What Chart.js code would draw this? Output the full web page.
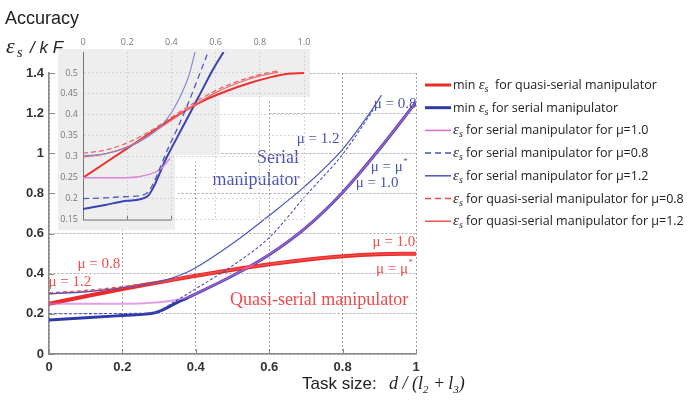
<!DOCTYPE html>
<html>
<head>
<meta charset="utf-8">
<script src="https://cdn.jsdelivr.net/npm/chart.js@4.4.0/dist/chart.umd.min.js"></script>
<style>
  html, body { margin: 0; padding: 0; background: #fff; }
  #wrap { position: relative; width: 687px; height: 400px; overflow: hidden; }
  #main { position: absolute; left: 0; top: 0; }
  #inset { position: absolute; left: 55px; top: 36px; }
</style>
</head>
<body>
<div id="wrap">
  <canvas id="main" width="687" height="400"></canvas>
  <canvas id="inset" width="260" height="194"></canvas>
</div>
<script>
// ---- main plot data (task size d/(l2+l3) vs accuracy) ----
const xTicks = [0, 0.2, 0.4, 0.6, 0.8, 1];
const xTickLabels = ['0', '0.2', '0.4', '0.6', '0.8', '1'];
const yTicks = [0, 0.2, 0.4, 0.6, 0.8, 1, 1.2, 1.4];
const yTickLabels = ['0', '0.2', '0.4', '0.6', '0.8', '1', '1.2', '1.4'];

const quasiMinX = [0, 0.1, 0.2, 0.3, 0.4, 0.5, 0.6, 0.7, 0.8, 0.9, 1.0];
const quasiMinY = [0.25, 0.288, 0.324, 0.357, 0.39, 0.42, 0.447, 0.47, 0.487, 0.497, 0.5];

const quasi08X = [0, 0.1, 0.2, 0.3, 0.4, 0.5, 0.6, 0.7, 0.8, 0.9, 1.0];
const quasi08Y = [0.305, 0.317, 0.336, 0.362, 0.393, 0.423, 0.45, 0.472, 0.489, 0.499, 0.502];
const quasi12X = [0, 0.1, 0.2, 0.3, 0.4, 0.5, 0.6, 0.7, 0.8, 0.9, 1.0];
const quasi12Y = [0.3, 0.311, 0.33, 0.357, 0.39, 0.42, 0.447, 0.47, 0.487, 0.497, 0.5];

const serialMinX = [0, 0.1, 0.2, 0.29, 0.35, 0.4, 0.5, 0.6, 0.7, 0.8, 0.9, 1.0];
const serialMinY = [0.17, 0.18, 0.192, 0.206, 0.257, 0.3, 0.39, 0.495, 0.63, 0.805, 1.02, 1.255];

const serial10X = [0, 0.1, 0.2, 0.3, 0.35, 0.39, 0.4, 0.5, 0.6, 0.7, 0.8, 0.9, 1.0];
const serial10Y = [0.25, 0.25, 0.25, 0.258, 0.27, 0.291, 0.3, 0.39, 0.495, 0.63, 0.805, 1.02, 1.255];

const serial08X = [0, 0.1, 0.2, 0.28, 0.35, 0.4, 0.5, 0.6, 0.7, 0.8, 0.885];
const serial08Y = [0.2, 0.201, 0.202, 0.205, 0.27, 0.325, 0.44, 0.58, 0.79, 0.995, 1.22];

const serial12X = [0, 0.1, 0.2, 0.3, 0.36, 0.4, 0.5, 0.6, 0.7, 0.8, 0.87, 0.906];
const serial12Y = [0.3, 0.31, 0.33, 0.36, 0.395, 0.43, 0.55, 0.69, 0.84, 1.02, 1.19, 1.29];

// ---- inset (zoomed view) data ----
const insetXTicks = [0, 0.2, 0.4, 0.6, 0.8, 1.0];
const insetXTickLabels = ['0', '0.2', '0.4', '0.6', '0.8', '1.0'];
const insetYTicks = [0.15, 0.2, 0.25, 0.3, 0.35, 0.4, 0.45, 0.5];
const insetYTickLabels = ['0.15', '0.2', '0.25', '0.3', '0.35', '0.4', '0.45', '0.5'];

const insetQuasiMinX = [0, 0.1, 0.2, 0.3, 0.4, 0.53, 0.65, 0.755, 0.85, 0.93, 1.0];
const insetQuasiMinY = [0.25, 0.285, 0.32, 0.355, 0.39, 0.43, 0.457, 0.476, 0.49, 0.498, 0.5];
const insetQuasi08X = [0, 0.1, 0.2, 0.3, 0.4, 0.5, 0.6, 0.7, 0.8, 0.884];
const insetQuasi08Y = [0.308, 0.316, 0.333, 0.36, 0.394, 0.428, 0.458, 0.48, 0.496, 0.505];
const insetQuasi12X = [0, 0.1, 0.2, 0.3, 0.4, 0.5, 0.6, 0.7, 0.8, 0.884];
const insetQuasi12Y = [0.299, 0.307, 0.324, 0.352, 0.387, 0.422, 0.453, 0.476, 0.493, 0.502];
const insetSerialMinX = [0, 0.1, 0.2, 0.288, 0.38, 0.46, 0.53, 0.59, 0.636];
const insetSerialMinY = [0.175, 0.185, 0.195, 0.204, 0.3, 0.38, 0.45, 0.51, 0.55];
const insetSerial10X = [0, 0.1, 0.2, 0.3, 0.35, 0.394];
const insetSerial10Y = [0.25, 0.25, 0.25, 0.258, 0.27, 0.296];
const insetSerial08X = [0, 0.1, 0.2, 0.28, 0.385, 0.47, 0.566];
const insetSerial08Y = [0.2, 0.202, 0.205, 0.21, 0.32, 0.42, 0.55];
const insetSerial12X = [0, 0.1, 0.2, 0.3, 0.35, 0.4, 0.45, 0.48, 0.507];
const insetSerial12Y = [0.302, 0.307, 0.322, 0.35, 0.372, 0.405, 0.455, 0.495, 0.55];

// text labels placed on the main plot (data coordinates)
const BLUE_TXT = '#4b53b2';
const RED_TXT = '#f04a4a';
const notes = [
  { t: 'μ = 0.8', x: 0.943, y: 1.245, c: BLUE_TXT, s: 15 },
  { t: 'μ = 1.2', x: 0.733, y: 1.07, c: BLUE_TXT, s: 15 },
  { t: 'Serial', x: 0.624, y: 0.975, c: BLUE_TXT, s: 18 },
  { t: 'manipulator', x: 0.564, y: 0.865, c: BLUE_TXT, s: 18 },
  { t: 'μ = μ*', x: 0.926, y: 0.93, c: BLUE_TXT, s: 15 },
  { t: 'μ = 1.0', x: 0.894, y: 0.85, c: BLUE_TXT, s: 15 },
  { t: 'μ = 1.0', x: 0.94, y: 0.56, c: RED_TXT, s: 15 },
  { t: 'μ = μ*', x: 0.94, y: 0.425, c: RED_TXT, s: 15 },
  { t: 'Quasi-serial manipulator', x: 0.736, y: 0.27, c: RED_TXT, s: 18 },
  { t: 'μ = 0.8', x: 0.136, y: 0.45, c: RED_TXT, s: 15 },
  { t: 'μ = 1.2', x: 0.057, y: 0.36, c: RED_TXT, s: 15 }
];

function pts(xs, ys) {
  return xs.map((x, i) => ({ x: x, y: ys[i] }));
}

function line(label, xs, ys, color, width, dash, order) {
  return {
    label: label,
    data: pts(xs, ys),
    borderColor: color,
    borderWidth: width,
    borderDash: dash || [],
    order: order,
    pointRadius: 0,
    cubicInterpolationMode: 'monotone',
    fill: false
  };
}

const mainDatasets = [
  line('min εs  for quasi-serial manipulator', quasiMinX, quasiMinY, '#ec2a2a', 4, null, 5),
  line('min εs for serial manipulator', serialMinX, serialMinY, '#2e3aa6', 3, null, 6),
  line('εs for serial manipulator for μ=1.0', serial10X, serial10Y, 'rgba(214,108,222,0.65)', 2, null, 2),
  line('εs for serial manipulator for μ=0.8', serial08X, serial08Y, '#4652b8', 1.1, [3, 2], 1),
  line('εs for serial manipulator for μ=1.2', serial12X, serial12Y, '#4a56c0', 1.2, null, 1),
  line('εs for quasi-serial manipulator for μ=0.8', quasi08X, quasi08Y, '#f04848', 1.2, [4, 3], 3),
  line('εs for quasi-serial manipulator for μ=1.2', quasi12X, quasi12Y, '#f25252', 1.2, null, 3)
];
const legendColors = ['#ec2a2a', '#2e3aa6', '#d86ed8', '#4652b8', '#4a56c0', '#f04848', '#f25252'];

const insetDatasets = [
  line('q min', insetQuasiMinX, insetQuasiMinY, '#ee3030', 2, null, 5),
  line('s min', insetSerialMinX, insetSerialMinY, '#3a42b4', 2, null, 6),
  line('s 1.0', insetSerial10X, insetSerial10Y, '#d884d8', 1.4, null, 2),
  line('s 0.8', insetSerial08X, insetSerial08Y, '#5058c0', 1.3, [6, 4], 1),
  line('s 1.2', insetSerial12X, insetSerial12Y, '#7c84d4', 1.1, null, 1),
  line('q 0.8', insetQuasi08X, insetQuasi08Y, '#f06464', 1.3, [5, 3], 3),
  line('q 1.2', insetQuasi12X, insetQuasi12Y, '#f06a6a', 1.2, null, 3)
];

// draws "pre εs post" with italic epsilon and subscript s
function drawEpsLabel(ctx, label, x, base) {
  const parts = label.split('εs');
  const sans = '12.5px "Open Sans"';
  ctx.fillStyle = '#222';
  ctx.textBaseline = 'alphabetic';
  ctx.textAlign = 'left';
  ctx.font = sans;
  ctx.fillText(parts[0], x, base);
  x += ctx.measureText(parts[0]).width;
  ctx.font = 'italic 15px "Liberation Serif"';
  ctx.fillText('ε', x, base);
  x += ctx.measureText('ε').width;
  ctx.font = 'italic 10px "Liberation Serif"';
  ctx.fillText('s', x, base + 3);
  x += ctx.measureText('s').width;
  ctx.font = sans;
  ctx.fillText(parts[1], x, base);
}

const sideLegend = {
  id: 'sideLegend',
  afterDraw(chart) {
    const ctx = chart.ctx;
    chart.data.datasets.forEach((ds, i) => {
      const y = 85 + i * 22.7;
      ctx.save();
      ctx.strokeStyle = legendColors[i];
      ctx.lineWidth = ds.borderWidth >= 3 ? 3 : 1.5;
      ctx.setLineDash(ds.borderDash.length ? [6, 4] : []);
      ctx.beginPath();
      ctx.moveTo(425, y);
      ctx.lineTo(451, y);
      ctx.stroke();
      ctx.restore();
      ctx.save();
      drawEpsLabel(ctx, ds.label, 453, y + 4);
      ctx.restore();
    });
  }
};

const textNotes = {
  id: 'textNotes',
  afterDatasetsDraw(chart) {
    const ctx = chart.ctx;
    const xs = chart.scales.x, ys = chart.scales.y;
    ctx.save();
    ctx.textBaseline = 'middle';
    ctx.textAlign = 'left';
    notes.forEach(n => {
      const star = n.t.endsWith('*');
      const body = star ? n.t.slice(0, -1) : n.t;
      ctx.font = n.s + 'px "Liberation Serif"';
      const w = ctx.measureText(body).width + (star ? 4 : 0);
      const px = xs.getPixelForValue(n.x) - w / 2;
      const py = ys.getPixelForValue(n.y);
      ctx.fillStyle = n.c;
      ctx.fillText(body, px, py);
      if (star) {
        const bw = ctx.measureText(body).width;
        ctx.font = '9px "Liberation Serif"';
        ctx.fillText('*', px + bw + 0.5, py - 6);
      }
    });
    ctx.restore();
  }
};

const axisTitles = {
  id: 'axisTitles',
  afterDraw(chart) {
    const ctx = chart.ctx;
    ctx.save();
    ctx.fillStyle = '#222';
    ctx.textBaseline = 'alphabetic';
    ctx.textAlign = 'left';
    ctx.font = '18px "Liberation Sans"';
    ctx.fillText('Accuracy', 5, 24);
    // eps_s / k F
    ctx.font = 'italic 22px "Liberation Serif"';
    ctx.fillText('ε', 6, 53);
    ctx.font = 'italic 14px "Liberation Serif"';
    ctx.fillText('s', 17, 57);
    ctx.font = 'italic 17px "Liberation Sans"';
    ctx.fillText('/ k F', 30, 53);
    // x title
    ctx.font = '17px "Liberation Sans"';
    ctx.fillText('Task size:', 302, 389);
    let x = 389;
    const serif = 'italic 18px "Liberation Serif"';
    const sub = 'italic 11px "Liberation Serif"';
    const segs = [['d / (l', serif, 0], ['2', sub, 4], [' +', serif, 0], ['l', serif, 0], ['3', sub, 4], [')', serif, 0]];
    segs.forEach(s => {
      ctx.font = s[1];
      ctx.fillText(s[0], x, 389 + s[2]);
      x += ctx.measureText(s[0]).width + (s[0] === ' +' ? 3 : 0);
    });
    // small inward tick marks
    const xs = chart.scales.x, ys = chart.scales.y, a = chart.chartArea;
    ctx.strokeStyle = '#888';
    ctx.lineWidth = 1;
    ctx.beginPath();
    yTicks.forEach(v => { const p = Math.round(ys.getPixelForValue(v)) + 0.5; ctx.moveTo(a.left, p); ctx.lineTo(a.left + 5, p); });
    xTicks.forEach(v => { const p = Math.round(xs.getPixelForValue(v)) + 0.5; ctx.moveTo(p, a.bottom); ctx.lineTo(p, a.bottom - 5); });
    ctx.stroke();
    ctx.restore();
  }
};

new Chart(document.getElementById('main'), {
  type: 'line',
  data: { datasets: mainDatasets },
  options: {
    responsive: false,
    animation: false,
    devicePixelRatio: 1,
    layout: { padding: { left: 0, right: 271, top: 73, bottom: 0 } },
    plugins: { legend: { display: false }, tooltip: { enabled: false } },
    scales: {
      x: {
        type: 'linear', min: 0, max: 1,
        afterFit: s => { s.height = 46; },
        afterBuildTicks: s => { s.ticks = xTicks.map(v => ({ value: v })); },
        grid: { color: '#a4a4a4', drawTicks: false },
        border: { display: true, color: '#8a8a8a', width: 1.5, dash: [2, 2] },
        ticks: {
          padding: 6, color: '#333', maxRotation: 0, autoSkip: false,
          font: { family: 'Liberation Sans', size: 13, weight: 'bold' },
          callback: (v, i) => xTickLabels[i]
        }
      },
      y: {
        type: 'linear', min: 0, max: 1.4,
        afterFit: s => { s.width = 49; },
        afterBuildTicks: s => { s.ticks = yTicks.map(v => ({ value: v })); },
        grid: { color: '#a4a4a4', drawTicks: false },
        border: { display: true, color: '#8a8a8a', width: 1.5, dash: [2, 2] },
        ticks: {
          padding: 5, color: '#333', autoSkip: false,
          font: { family: 'Liberation Sans', size: 13, weight: 'bold' },
          callback: (v, i) => yTickLabels[i]
        }
      }
    }
  },
  plugins: [textNotes, sideLegend, axisTitles]
});

// inset background: white cut-out plus light grey tiles (canvas coords)
const insetBg = {
  id: 'insetBg',
  beforeDraw(chart) {
    const ctx = chart.ctx;
    ctx.save();
    ctx.fillStyle = '#ffffff';
    [[2, 13, 253, 51], [2, 64, 211, 40], [2, 104, 164, 22], [2, 126, 121, 68]].forEach(r => ctx.fillRect(r[0], r[1], r[2], r[3]));
    ctx.fillStyle = '#eeeeee';
    [[3, 13, 252, 48], [3, 61, 162, 58], [3, 119, 117, 75]].forEach(r => ctx.fillRect(r[0], r[1], r[2], r[3]));
    ctx.restore();
  },
  afterDraw(chart) {
    // short bottom axis of the inset (0 .. 0.4)
    const ctx = chart.ctx, xs = chart.scales.x, a = chart.chartArea;
    ctx.save();
    ctx.strokeStyle = '#777';
    ctx.lineWidth = 1;
    ctx.beginPath();
    ctx.moveTo(xs.getPixelForValue(0), a.bottom + 0.5);
    ctx.lineTo(xs.getPixelForValue(0.4), a.bottom + 0.5);
    [0.2, 0.4].forEach(v => { const p = Math.round(xs.getPixelForValue(v)) + 0.5; ctx.moveTo(p, a.bottom); ctx.lineTo(p, a.bottom - 4); });
    ctx.stroke();
    ctx.restore();
  }
};

new Chart(document.getElementById('inset'), {
  type: 'line',
  data: { datasets: insetDatasets },
  options: {
    responsive: false,
    animation: false,
    devicePixelRatio: 1,
    layout: { padding: { left: 0, right: 11, top: 0, bottom: 8 } },
    plugins: { legend: { display: false }, tooltip: { enabled: false } },
    scales: {
      x: {
        type: 'linear', position: 'top', min: 0, max: 1,
        afterFit: s => { s.height = 16; },
        afterBuildTicks: s => { s.ticks = insetXTicks.map(v => ({ value: v })); },
        grid: { color: '#d4d4d4', drawTicks: false },
        border: { display: false, dash: [2, 2] },
        ticks: {
          padding: 4, color: '#777', maxRotation: 0, autoSkip: false,
          font: { family: 'Open Sans', size: 9 },
          callback: (v, i) => insetXTickLabels[i]
        }
      },
      y: {
        type: 'linear', min: 0.15, max: 0.55,
        afterFit: s => { s.width = 28; },
        afterBuildTicks: s => { s.ticks = insetYTicks.map(v => ({ value: v })); },
        grid: { color: '#d4d4d4', drawTicks: false },
        border: { display: true, color: '#777', width: 1, dash: [2, 2] },
        ticks: {
          padding: 5, color: '#777', autoSkip: false,
          font: { family: 'Open Sans', size: 9 },
          callback: (v, i) => insetYTickLabels[i]
        }
      }
    }
  },
  plugins: [insetBg]
});
</script>
</body>
</html>
